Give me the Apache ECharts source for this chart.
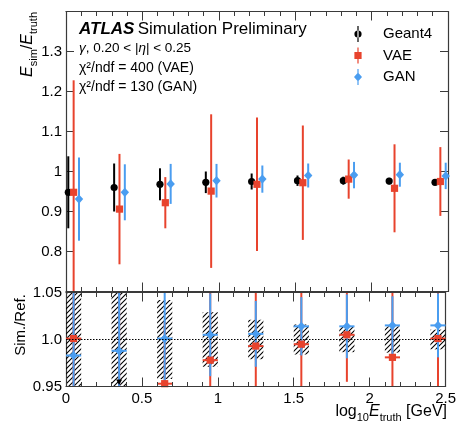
<!DOCTYPE html>
<html><head><meta charset="utf-8">
<script src="https://cdn.jsdelivr.net/npm/echarts@6/dist/echarts.min.js"></script>
<style>html,body{margin:0;padding:0;background:#fff}#c{width:459px;height:424px}</style>
</head><body><div id="c"></div>
<script>
// ---------------- data ----------------
const binCenters = [0.05, 0.35, 0.65, 0.95, 1.25, 1.55, 1.85, 2.15, 2.45];

const g4Val  = [0.948, 0.960, 0.968, 0.973, 0.975, 0.977, 0.977, 0.976, 0.973];
const g4Err  = [0.090, 0.060, 0.040, 0.027, 0.020, 0.013, 0.010, 0.008, 0.007];
const vaeVal = [0.948, 0.906, 0.922, 0.951, 0.968, 0.972, 0.981, 0.958, 0.975];
const vaeErr = [0.280, 0.138, 0.064, 0.192, 0.167, 0.143, 0.049, 0.110, 0.086];
const ganVal = [0.931, 0.948, 0.969, 0.977, 0.981, 0.990, 0.991, 0.992, 0.989];
const ganErr = [0.104, 0.070, 0.050, 0.042, 0.034, 0.030, 0.033, 0.030, 0.033];

const g4RelErr    = [0.094, 0.062, 0.042, 0.029, 0.021, 0.016, 0.0135, 0.014, 0.0105];
const vaeRatio    = [1.001, 0.943, 0.953, 0.978, 0.993, 0.995, 1.005, 0.981, 1.001];
const vaeRatioErr = [0.290, 0.140, 0.066, 0.200, 0.170, 0.146, 0.050, 0.113, 0.088];
const ganRatio    = [0.983, 0.988, 1.001, 1.005, 1.006, 1.014, 1.014, 1.015, 1.015];
const ganRatioErr = [0.110, 0.073, 0.052, 0.044, 0.035, 0.031, 0.034, 0.031, 0.034];

const xTicks = [0, 0.5, 1, 1.5, 2, 2.5];
const xTickLabels = ['0', '0.5', '1', '1.5', '2', '2.5'];
const topYTicks = [0.8, 0.9, 1.0, 1.1, 1.2, 1.3];
const topYTickLabels = ['0.8', '0.9', '1', '1.1', '1.2', '1.3'];
const ratioYTicks = [0.95, 1.0, 1.05];
const ratioYTickLabels = ['0.95', '1.0', '1.05'];

const seriesNames = ['Geant4', 'VAE', 'GAN'];
const chi2Lines = ['χ²/ndf = 400 (VAE)', 'χ²/ndf = 130 (GAN)'];

// ---------------- styles ----------------
const FONT = '"Liberation Sans", Arial, Helvetica, sans-serif';
const C_G4 = '#000000', C_VAE = '#e8432d', C_GAN = '#4a9df0';
const BIN_HALF = 0.05;      // half bin width (log10 units)
const TOP_SHIFT = 0.035;    // horizontal offset between samples in top panel
const TOP_RANGE = [0.7, 1.4], RATIO_RANGE = [0.95, 1.05];

function lookupLabel(ticks, labels) {
  return v => { const i = ticks.findIndex(t => Math.abs(t - v) < 1e-6); return i < 0 ? '' : labels[i]; };
}
const clampV = (v, r) => Math.max(r[0], Math.min(r[1], v));

// hatch pattern
const pat = document.createElement('canvas');
pat.width = 5; pat.height = 5;
(function(){ const c = pat.getContext('2d'); c.strokeStyle = '#000'; c.lineWidth = 1.1;
  c.beginPath(); c.moveTo(0,5); c.lineTo(5,0); c.moveTo(-1,1); c.lineTo(1,-1); c.moveTo(4,6); c.lineTo(6,4); c.stroke(); })();

function marker(kind, cx, cy, color) {
  if (kind === 'circle') return {type:'circle', shape:{cx, cy, r:3.6}, style:{fill:color}};
  if (kind === 'square') return {type:'rect', shape:{x:cx-3.6, y:cy-3.6, width:7.2, height:7.2}, style:{fill:color}};
  return {type:'polygon', shape:{points:[[cx,cy-4.6],[cx+4.2,cy],[cx,cy+4.6],[cx-4.2,cy]]}, style:{fill:color}};
}

function errSeries(opt) {
  const data = opt.xs.map((x, i) => [x + (opt.shift||0), opt.vals[i], opt.vals[i] - opt.errs[i], opt.vals[i] + opt.errs[i]]);
  const R = opt.range;
  return {
    type: 'custom', name: opt.name, xAxisIndex: opt.xi, yAxisIndex: opt.yi, clip: false,
    itemStyle: {color: opt.color}, dimensions: ['x','y','lo','hi'], encode: {x: 0, y: 1},
    data,
    renderItem: (params, api) => {
      const x = api.value(0), y = api.value(1);
      const lo = clampV(api.value(2), R), hi = clampV(api.value(3), R);
      const p = api.coord([x, y]), pl = api.coord([x, lo]), ph = api.coord([x, hi]);
      const ch = [];
      const mode = opt.mode || 'both';
      const inRange = y >= R[0] && y <= R[1];
      if (mode !== 'marks') {
        if (hi > lo) ch.push({type:'line', shape:{x1:p[0], y1:pl[1], x2:p[0], y2:ph[1]}, style:{stroke:opt.color, lineWidth:2}});
        if (opt.hbar && inRange) {
          const a = api.coord([x - BIN_HALF, y]), b = api.coord([x + BIN_HALF, y]);
          ch.push({type:'line', shape:{x1:a[0], y1:a[1], x2:b[0], y2:b[1]}, style:{stroke:opt.color, lineWidth:2}});
        }
      }
      if (mode !== 'bars') {
        if (y < R[0]) {
          if (opt.offScaleArrow) {
            const q = api.coord([x, R[0]]);
            ch.push({type:'polygon', shape:{points:[[q[0]-3, q[1]-7],[q[0]+3, q[1]-7],[q[0], q[1]-1.5]]}, style:{fill:'#000'}});
          }
        } else if (inRange) {
          ch.push(marker(opt.kind, p[0], p[1], opt.color));
        }
      }
      return {type:'group', children: ch};
    }
  };
}

const boxSeries = {
  type: 'custom', name: 'g4band', xAxisIndex: 2, yAxisIndex: 2, clip: false,
  dimensions: ['x','rel'], encode: {x: 0, y: 1},
  data: binCenters.map((x, i) => [x, g4RelErr[i]]),
  renderItem: (params, api) => {
    const x = api.value(0), r = api.value(1);
    const a = api.coord([x - BIN_HALF, clampV(1 + r, RATIO_RANGE)]), b = api.coord([x + BIN_HALF, clampV(1 - r, RATIO_RANGE)]);
    return {type:'rect', shape:{x:a[0], y:a[1], width:b[0]-a[0], height:b[1]-a[1]},
            style:{fill:{image: pat, repeat:'repeat'}}};
  },
  markLine: {silent:true, symbol:['none','none'], label:{show:false},
    lineStyle:{color:'#000', width:1, type:[1.5,1.5]}, data:[{yAxis:1}]}
};

const axisLine = {show:true, onZero:false, lineStyle:{color:'#3a3a3a', width:1.2}};
function xAx(grid, pos, labels) {
  return {type:'value', gridIndex:grid, position:pos, min:0, max:2.5, interval:0.5,
    axisLine, splitLine:{show:false}, z: 5,
    axisTick:{show:true, inside:true, length:9, lineStyle:{color:'#3a3a3a', width:1}},
    minorTick:{show:true, splitNumber:5, length:4.5, lineStyle:{color:'#3a3a3a', width:1}},
    axisLabel:{show:labels, margin:5, fontSize:15, color:'#000', fontFamily:FONT,
      formatter: lookupLabel(xTicks, xTickLabels)}};
}
function yAx(grid, pos, range, iv, labels, ticks, tl) {
  return {type:'value', gridIndex:grid, position:pos, min:range[0], max:range[1], interval:iv,
    axisLine, splitLine:{show:false},
    axisTick:{show:true, inside:true, length:8, lineStyle:{color:'#3a3a3a', width:1}},
    axisLabel:{show:labels, margin:4, fontSize:15, color:'#000', fontFamily:FONT,
      showMinLabel:true, showMaxLabel:true, formatter: lookupLabel(ticks, tl)}};
}

const legendIcons = {
  Geant4: 'path://M3.4,0H4.6V16H3.4Z M0.4,8A3.6,3.6 0 1 0 7.6,8A3.6,3.6 0 1 0 0.4,8Z',
  VAE: 'path://M3.4,0H4.6V16H3.4Z M0.4,4.4H7.6V11.6H0.4Z',
  GAN: 'path://M3.4,0H4.6V16H3.4Z M4,3.4L8,8L4,12.6L0,8Z'
};

const option = {
  animation: false,
  backgroundColor: '#fff',
  grid: [
    {left:66, top:11.5, width:382, height:280},
    {left:66, top:292.5, width:382, height:94}
  ],
  xAxis: [xAx(0,'bottom',false), xAx(0,'top',false), xAx(1,'bottom',true), xAx(1,'top',false)],
  yAxis: [
    yAx(0,'left',TOP_RANGE,0.1,true,topYTicks,topYTickLabels),
    yAx(0,'right',TOP_RANGE,0.1,false,topYTicks,topYTickLabels),
    yAx(1,'left',RATIO_RANGE,0.05,true,ratioYTicks,ratioYTickLabels),
    yAx(1,'right',RATIO_RANGE,0.05,false,ratioYTicks,ratioYTickLabels)
  ],
  legend: {
    orient:'vertical', left:349, top:21, itemWidth:8, itemHeight:16, itemGap:5.5, selectedMode:false,
    textStyle:{fontSize:15, color:'#000', fontFamily:FONT, padding:[0,0,0,16]},
    data: seriesNames.map(n => ({name:n, icon: legendIcons[n]}))
  },
  series: [
    errSeries({name:seriesNames[0], xs:binCenters, vals:g4Val, errs:g4Err, color:C_G4, kind:'circle', xi:0, yi:0, shift:-TOP_SHIFT, range:TOP_RANGE}),
    errSeries({name:seriesNames[1], xs:binCenters, vals:vaeVal, errs:vaeErr, color:C_VAE, kind:'square', xi:0, yi:0, shift:0, range:TOP_RANGE}),
    errSeries({name:seriesNames[2], xs:binCenters, vals:ganVal, errs:ganErr, color:C_GAN, kind:'diamond', xi:0, yi:0, shift:TOP_SHIFT, range:TOP_RANGE}),
    boxSeries,
    errSeries({name:'vaeRatioBars', xs:binCenters, vals:vaeRatio, errs:vaeRatioErr, color:C_VAE, kind:'square', xi:2, yi:2, hbar:true, mode:'bars', range:RATIO_RANGE}),
    errSeries({name:'ganRatioBars', xs:binCenters, vals:ganRatio, errs:ganRatioErr, color:C_GAN, kind:'diamond', xi:2, yi:2, hbar:true, mode:'bars', range:RATIO_RANGE}),
    errSeries({name:'vaeRatioMarks', xs:binCenters, vals:vaeRatio, errs:vaeRatioErr, color:C_VAE, kind:'square', xi:2, yi:2, mode:'marks', offScaleArrow:true, range:RATIO_RANGE}),
    errSeries({name:'ganRatioMarks', xs:binCenters, vals:ganRatio, errs:ganRatioErr, color:C_GAN, kind:'diamond', xi:2, yi:2, mode:'marks', range:RATIO_RANGE})
  ],
  graphic: [
    {type:'text', x:79, y:29, style:{text:'{b|ATLAS} {n|Simulation Preliminary}', verticalAlign:'middle',
      rich:{b:{fontSize:17, fontWeight:'bold', fontStyle:'italic', fontFamily:FONT, fill:'#000'},
            n:{fontSize:17, fontFamily:FONT, fill:'#000'}}}},
    {type:'text', x:79, y:48, style:{text:'{i|γ}{n|, 0.20 < |}{i|η}{n|| < 0.25}', verticalAlign:'middle',
      rich:{i:{fontSize:13.5, fontStyle:'italic', fontFamily:FONT, fill:'#000'}, n:{fontSize:13.5, fontFamily:FONT, fill:'#000'}}}},
    {type:'text', x:79, y:68, style:{text:chi2Lines[0], verticalAlign:'middle', font:'14px ' + FONT, fill:'#000'}},
    {type:'text', x:79, y:87, style:{text:chi2Lines[1], verticalAlign:'middle', font:'14px ' + FONT, fill:'#000'}},
    {type:'text', x:28, y:12, rotation:Math.PI/2, style:{text:'{i|E}{s|sim}{n|/}{i|E}{s|truth}', align:'right', verticalAlign:'middle',
      rich:{i:{fontSize:16, fontStyle:'italic', fontFamily:FONT, fill:'#000', lineHeight:22},
            n:{fontSize:16, fontFamily:FONT, fill:'#000', lineHeight:22},
            s:{fontSize:11, fontFamily:FONT, fill:'#000', verticalAlign:'bottom', lineHeight:22}}}},
    {type:'text', x:21, y:325, rotation:Math.PI/2, style:{text:'Sim./Ref.', align:'center', verticalAlign:'middle', font:'15px ' + FONT, fill:'#000'}},
    {type:'text', x:447, y:412, style:{text:'{n|log}{s|10}{i|E}{s|truth}{n| [GeV]}', align:'right', verticalAlign:'middle',
      rich:{i:{fontSize:16, fontStyle:'italic', fontFamily:FONT, fill:'#000', lineHeight:22},
            n:{fontSize:16, fontFamily:FONT, fill:'#000', lineHeight:22},
            s:{fontSize:11, fontFamily:FONT, fill:'#000', verticalAlign:'bottom', lineHeight:22}}}}
  ]
};

const chart = echarts.init(document.getElementById('c'), null, {renderer:'canvas'});
chart.setOption(option);
</script>
</body></html>
